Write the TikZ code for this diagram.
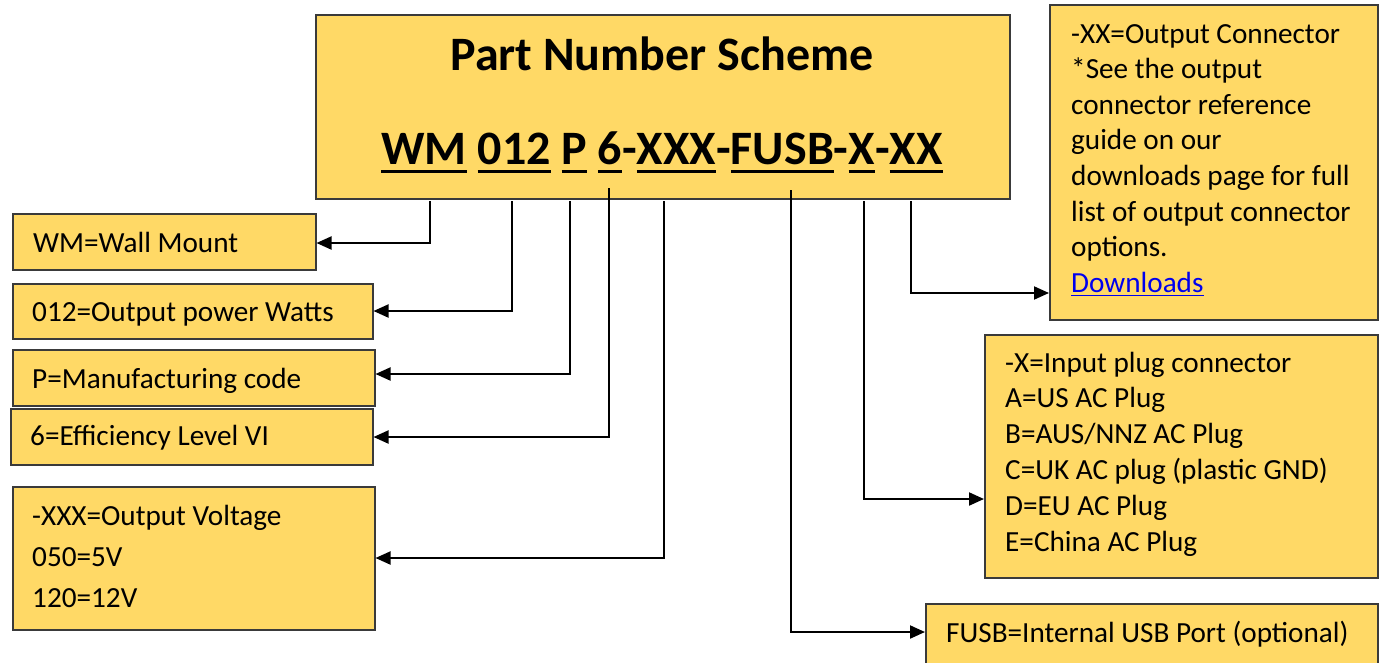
\documentclass[tikz,border=0pt]{standalone}
\usepackage{fontspec}
\setmainfont{Carlito}
\usetikzlibrary{arrows.meta}
\definecolor{gold}{HTML}{FFD966}
\definecolor{edgegray}{HTML}{3A3A3A}
\definecolor{linkblue}{HTML}{0000EE}
\newcommand\ulseg[1]{\setbox0\hbox{#1}\rlap{\rule[-9pt]{\wd0}{3.2pt}}\box0\relax}
\newcommand\ullink[1]{\setbox0\hbox{#1}\rlap{\rule[-4pt]{\wd0}{1.6pt}}\box0\relax}
\tikzset{
  box/.style={draw=edgegray, line width=1.5pt, fill=gold, inner sep=0pt, anchor=north west, rectangle},
  txt/.style={font=\fontsize{29.2}{35.8}\selectfont, inner sep=0pt, anchor=base west},
  big/.style={font=\bfseries\fontsize{48}{58}\selectfont, inner sep=0pt, anchor=base},
  conn/.style={line width=2pt, draw=black, -{Triangle[length=15pt,width=13pt]}}
}
\begin{document}
\begin{tikzpicture}[x=1pt,y=-1pt]
\useasboundingbox (0,0) rectangle (1380,662);
% boxes
\node[box, minimum width=694, minimum height=184] (main) at (315,14) {};
\node[box, minimum width=303, minimum height=56] (wm) at (12,213) {};
\node[box, minimum width=360, minimum height=55] (pw) at (12,283) {};
\node[box, minimum width=362, minimum height=56] (pc) at (12,349) {};
\node[box, minimum width=362, minimum height=56] (ef) at (10,408) {};
\node[box, minimum width=362, minimum height=143] (ov) at (12,486) {};
\node[box, minimum width=328, minimum height=315] (oc) at (1049,4) {};
\node[box, minimum width=393, minimum height=243] (ip) at (984,334) {};
\node[box, minimum width=452, minimum height=75] (fu) at (925,603) {};
% main texts
\node[big] (title) at (662,70) {Part Number Scheme};
\node[big] (pn) at (662,164) {\ulseg{WM} \ulseg{012} \ulseg{P} \ulseg{6}-\ulseg{XXX}-\ulseg{FUSB}-\ulseg{X}-\ulseg{XX}};
% left texts
\node[txt] (twm) at (33,252) {WM=Wall Mount};
\node[txt] (tpw) at (32,321) {012=Output power Watts};
\node[txt] (tpc) at (32,388) {P=Manufacturing code};
\node[txt] (tef) at (30,445) {6=Efficiency Level VI};
\node[txt] (tov1) at (32,525) {-XXX=Output Voltage};
\node[txt] (tov2) at (32,566) {050=5V};
\node[txt] (tov3) at (32,607) {120=12V};
% right texts
\node[txt] (toc1) at (1071,43) {-XX=Output Connector};
\node[txt] (toc2) at (1071,78.6) {*See the output};
\node[txt] (toc3) at (1071,114.2) {connector reference};
\node[txt] (toc4) at (1071,149.8) {guide on our};
\node[txt] (toc5) at (1071,185.4) {downloads page for full};
\node[txt] (toc6) at (1071,221) {list of output connector};
\node[txt] (toc7) at (1071,256.6) {options.};
\node[txt, text=linkblue] (toc8) at (1071,292.2) {\ullink{Downloads}};
\node[txt] (tip1) at (1005,372) {-X=Input plug connector};
\node[txt] (tip2) at (1005,407.8) {A=US AC Plug};
\node[txt] (tip3) at (1005,443.6) {B=AUS/NNZ AC Plug};
\node[txt] (tip4) at (1005,479.4) {C=UK AC plug (plastic GND)};
\node[txt] (tip5) at (1005,515.2) {D=EU AC Plug};
\node[txt] (tip6) at (1005,551) {E=China AC Plug};
\node[txt] (tfu) at (946,642) {FUSB=Internal USB Port (optional)};
% connector start points
\coordinate (s1) at (430,201);
\coordinate (s2) at (512,201);
\coordinate (s3) at (570,201);
\coordinate (s4) at (609,188);
\coordinate (s5) at (664,201);
\coordinate (s6) at (791,190);
\coordinate (s7) at (864,201);
\coordinate (s8) at (911,201);
% connectors
\draw[conn] (s1) |- (wm.east |- 0,243);
\draw[conn] (s2) |- (pw.east |- 0,311);
\draw[conn] (s3) |- (pc.east |- 0,374);
\draw[conn] (s4) |- (ef.east |- 0,437);
\draw[conn] (s5) |- (ov.east |- 0,558);
\draw[conn] (s6) |- (fu.west |- 0,632);
\draw[conn] (s7) |- (ip.west |- 0,499);
\draw[conn] (s8) |- (oc.west |- 0,293);
\end{tikzpicture}
\end{document}
